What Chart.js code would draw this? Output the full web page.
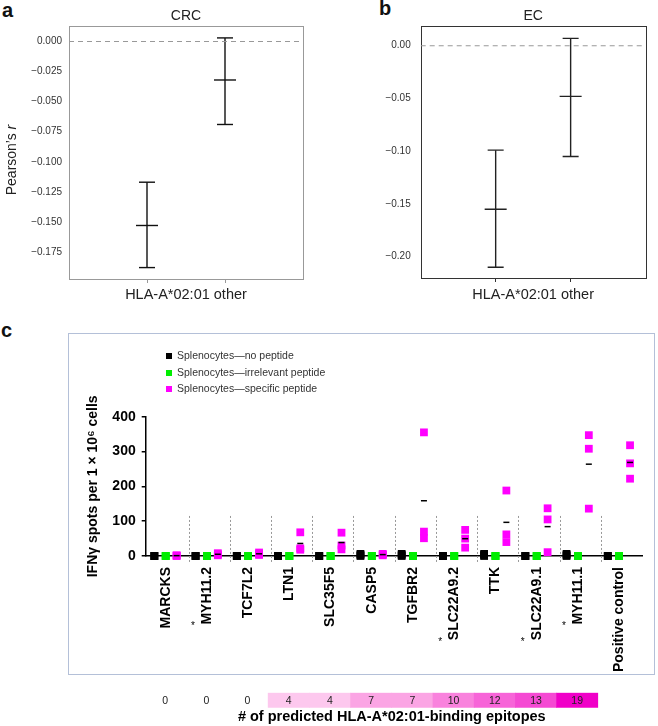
<!DOCTYPE html>
<html>
<head>
<meta charset="utf-8">
<script src="https://cdn.jsdelivr.net/npm/chart.js@4.4.1/dist/chart.umd.min.js"></script>
<style>
  body { margin: 0; background: #fff; }
  #page { position: relative; width: 658px; height: 726px; overflow: hidden; font-family: "Liberation Sans", Arial, sans-serif; }
  canvas { position: absolute; }
  .tag { position: absolute; font-weight: bold; font-size: 20px; line-height: 20px; color: #111; }
  #boxC { position: absolute; left: 68px; top: 333px; width: 587px; height: 342px; border: 1px solid #b4c0d8; box-sizing: border-box; }
</style>
</head>
<body>
<div id="page">
  <div class="tag" style="left:2px;top:0px">a</div>
  <div class="tag" style="left:379px;top:-2px">b</div>
  <div class="tag" style="left:1px;top:320px">c</div>
  <div id="boxC"></div>
  <canvas id="chartA" width="330" height="310" style="left:0;top:0"></canvas>
  <canvas id="chartB" width="328" height="310" style="left:330px;top:0"></canvas>
  <canvas id="chartC" width="587" height="342" style="left:68px;top:333px"></canvas>
  <canvas id="chartD" width="500" height="40" style="left:144px;top:686px"></canvas>
</div>
<script>
// panels a and b: Pearson's r with confidence intervals
const groupLabels = ['HLA-A*02:01', 'other'];
const crcMean = [-0.153, -0.032];
const crcLow = [-0.188, -0.069];
const crcHigh = [-0.117, 0.003];
const crcTicks = [0, -0.025, -0.05, -0.075, -0.1, -0.125, -0.15, -0.175];
const ecMean = [-0.155, -0.048];
const ecLow = [-0.210, -0.105];
const ecHigh = [-0.099, 0.007];
const ecTicks = [0, -0.05, -0.1, -0.15, -0.2];

// panel c: IFNγ ELISpot, three replicates per gene
const genes = ['MARCKS', 'MYH11.2', 'TCF7L2', 'LTN1', 'SLC35F5', 'CASP5', 'TGFBR2',
  'SLC22A9.2', 'TTK', 'SLC22A9.1', 'MYH11.1', 'Positive control'];
const starred = [false, true, false, false, false, false, false, true, false, true, true, false];
const seriesNames = ['Splenocytes\u2014no peptide', 'Splenocytes\u2014irrelevant peptide', 'Splenocytes\u2014specific peptide'];
const noPeptide = [[0, 0, 0], [0, 0, 0], [0, 0, 0], [0, 0, 0], [0, 0, 0], [0, 3, 6],
  [0, 3, 6], [0, 0, 0], [0, 3, 6], [0, 0, 0], [0, 3, 6], [0, 0, 0]];
const irrelevantPeptide = [[0, 0, 0], [0, 0, 0], [0, 0, 0], [0, 0, 0], [0, 0, 0], [0, 0, 0],
  [0, 0, 0], [0, 0, 0], [0, 0, 0], [0, 0, 0], [0, 0, 0], [0, 0, 0]];
const specificPeptide = [[0, 1, 2], [2, 5, 8], [3, 6, 10], [68, 22, 18], [67, 30, 19], [2, 4, 6],
  [355, 70, 51], [75, 50, 24], [188, 62, 40], [137, 105, 11], [347, 308, 136], [318, 266, 222]];
const spotTicks = [0, 100, 200, 300, 400];
const epitopeCounts = [0, 0, 0, 4, 4, 7, 7, 10, 12, 13, 19, null];

Chart.defaults.font.family = '"Liberation Sans", Arial, sans-serif';

const FONT = '"Liberation Sans", Arial, sans-serif';

function fmtTick(v, d) {
  if (Math.abs(v) < 1e-9) return (0).toFixed(d);
  return (v < 0 ? '\u2212' : '') + Math.abs(v).toFixed(d);
}

function framePlugin(color, title, withYTitle) {
  return {
    id: 'frame',
    beforeDatasetsDraw(chart) {
      const { ctx, chartArea: a } = chart;
      ctx.save();
      ctx.strokeStyle = color;
      ctx.lineWidth = 1;
      ctx.strokeRect(Math.round(a.left) + 0.5, Math.round(a.top) + 0.5,
        Math.round(a.right - a.left), Math.round(a.bottom - a.top));
      ctx.restore();
    },
    afterDraw(chart) {
      const { ctx, chartArea: a } = chart;
      ctx.save();
      ctx.fillStyle = '#222';
      ctx.font = '14px ' + FONT;
      ctx.textAlign = 'center';
      ctx.textBaseline = 'middle';
      ctx.fillText(title, (a.left + a.right) / 2, a.top - 10);
      if (withYTitle) {
        ctx.translate(12, 160);
        ctx.rotate(-Math.PI / 2);
        ctx.textAlign = 'left';
        const w1 = ctx.measureText("Pearson\u2019s ").width;
        ctx.font = 'italic 14px ' + FONT;
        const w2 = ctx.measureText('r').width;
        const x0 = -(w1 + w2) / 2;
        ctx.font = '14px ' + FONT;
        ctx.fillText("Pearson\u2019s ", x0, 0);
        ctx.font = 'italic 14px ' + FONT;
        ctx.fillText('r', x0 + w1, 0);
      }
      ctx.restore();
    }
  };
}

function errorChart(id, cfg) {
  const datasets = [{
    data: [{ x: -1, y: 0 }, { x: 2, y: 0 }],
    showLine: true, borderColor: '#999', borderWidth: 1.2, borderDash: [5, 4], pointRadius: 0
  }];
  cfg.mean.forEach((m, i) => {
    datasets.push({
      data: [{ x: i, y: cfg.low[i] }, { x: i, y: cfg.high[i] }],
      showLine: true, borderColor: cfg.line, borderWidth: 1.4,
      pointStyle: 'line', pointRadius: 8, pointBorderColor: cfg.line, pointBorderWidth: 1.4
    });
  });
  datasets.push({
    data: cfg.mean.map((m, i) => ({ x: i, y: m })),
    pointStyle: 'line', pointRadius: 11, pointBorderColor: cfg.line, pointBorderWidth: 1.4
  });

  return new Chart(id, {
    type: 'scatter',
    data: { datasets },
    options: {
      responsive: false,
      animation: false,
      events: [],
      layout: { padding: { top: 26, right: cfg.rightPad, left: 0, bottom: 0 } },
      plugins: { legend: { display: false }, tooltip: { enabled: false } },
      scales: {
        x: {
          type: 'linear', min: -1, max: 2,
          afterBuildTicks: s => { s.ticks = groupLabels.map((g, i) => ({ value: i })); },
          afterFit: s => { s.height = cfg.xHeight; },
          grid: { display: true, drawOnChartArea: false, tickLength: 4, color: cfg.frame },
          border: { display: false },
          ticks: { callback: () => '' },
          title: {
            display: true, text: groupLabels.join(' '), color: '#222',
            font: { size: 14.5 }, padding: { top: 0, bottom: 6.6 }
          }
        },
        y: {
          min: cfg.yMin, max: cfg.yMax,
          afterBuildTicks: s => { s.ticks = cfg.ticks.map(v => ({ value: v })); },
          afterFit: s => { s.width = cfg.yWidth; },
          grid: { display: false, drawTicks: false },
          border: { display: false },
          ticks: { padding: cfg.tickPad, color: '#333', font: { size: 10 }, callback: v => fmtTick(v, cfg.decimals) }
        }
      }
    },
    plugins: [framePlugin(cfg.frame, cfg.title, cfg.yTitle)]
  });
}

errorChart('chartA', {
  mean: crcMean, low: crcLow, high: crcHigh, ticks: crcTicks, decimals: 3,
  yMin: -0.1975, yMax: 0.0129, yWidth: 69, rightPad: 27, xHeight: 31, tickPad: 7,
  frame: '#999', line: '#111', title: 'CRC', yTitle: true
});

errorChart('chartB', {
  mean: ecMean, low: ecLow, high: ecHigh, ticks: ecTicks, decimals: 2,
  yMin: -0.2202, yMax: 0.0187, yWidth: 90.7, rightPad: 3, xHeight: 32, tickPad: 10,
  frame: '#333', line: '#222', title: 'EC', yTitle: false
});

// panel c
const seriesColors = ['#000000', '#00ee00', '#ff00ff'];
const seriesOffsets = [0.17, 0.445, 0.71];
const seriesValues = [noPeptide, irrelevantPeptide, specificPeptide];

const datasetsC = seriesValues.map((vals, s) => ({
  label: seriesNames[s],
  data: vals.flatMap((reps, i) => reps.map(v => ({ x: i + seriesOffsets[s], y: v }))),
  pointStyle: 'rect', pointRadius: 5.5, pointBorderWidth: 0,
  pointBackgroundColor: seriesColors[s], borderColor: seriesColors[s],
  clip: false, order: 1
}));
datasetsC.push({
  label: 'mean',
  data: specificPeptide.map((reps, i) => ({
    x: i + seriesOffsets[2], y: reps.reduce((a, b) => a + b, 0) / reps.length
  })),
  pointStyle: 'line', pointRadius: 3, pointBorderWidth: 1.5, pointBorderColor: '#000',
  clip: false, order: 0
});

const elispotDecor = {
  id: 'elispotDecor',
  beforeDatasetsDraw(chart) {
    const { ctx, scales: { x, y } } = chart;
    ctx.save();
    ctx.strokeStyle = '#999';
    ctx.lineWidth = 1;
    ctx.setLineDash([2, 2]);
    for (let k = 1; k < genes.length; k++) {
      const px = Math.round(x.getPixelForValue(k)) + 0.5;
      ctx.beginPath();
      ctx.moveTo(px, y.getPixelForValue(115));
      ctx.lineTo(px, y.getPixelForValue(-23));
      ctx.stroke();
    }
    ctx.restore();
  },
  afterDraw(chart) {
    const { ctx, scales: { x, y } } = chart;
    ctx.save();
    // asterisks beside the starred gene labels
    const base = y.getPixelForValue(0) + 11;
    genes.forEach((g, i) => {
      if (!starred[i]) return;
      ctx.font = 'bold 14px ' + FONT;
      const w = ctx.measureText(g).width;
      const tx = x.getPixelForValue(i + seriesOffsets[1]);
      ctx.font = '10px ' + FONT;
      ctx.fillStyle = '#000';
      ctx.textAlign = 'center';
      ctx.textBaseline = 'alphabetic';
      ctx.fillText('*', tx - 14, base + w + 4.5);
    });
    // legend
    ctx.font = '10.5px ' + FONT;
    ctx.textAlign = 'left';
    ctx.textBaseline = 'middle';
    seriesNames.forEach((n, i) => {
      const yy = 23 + i * 16.7;
      ctx.fillStyle = seriesColors[i];
      ctx.fillRect(98, Math.round(yy - 3), 6, 6);
      ctx.fillStyle = '#333';
      ctx.fillText(n, 109, yy);
    });
    ctx.restore();
  }
};

new Chart('chartC', {
  type: 'scatter',
  data: { datasets: datasetsC },
  options: {
    responsive: false,
    animation: false,
    events: [],
    layout: { padding: { top: 83.7, right: 13, left: 0, bottom: 0 } },
    plugins: { legend: { display: false }, tooltip: { enabled: false } },
    scales: {
      x: {
        type: 'linear', min: -0.04, max: genes.length,
        afterBuildTicks: s => { s.ticks = genes.map((g, i) => ({ value: i + seriesOffsets[1] })); },
        afterFit: s => { s.height = 119; },
        grid: { display: false, drawTicks: false },
        border: { display: true, color: '#000', width: 1.5 },
        ticks: {
          autoSkip: false, minRotation: 90, maxRotation: 90, padding: 11,
          font: { size: 14, weight: 'bold' }, color: '#000',
          callback: (v, i) => genes[i]
        }
      },
      y: {
        min: 0, max: 400,
        afterBuildTicks: s => { s.ticks = spotTicks.map(v => ({ value: v })); },
        afterFit: s => { s.width = 77.7; },
        grid: { display: true, drawOnChartArea: false, tickLength: 4, color: '#000', lineWidth: 1.5 },
        border: { display: true, color: '#000', width: 1.5 },
        ticks: { padding: 6, font: { size: 14, weight: 'bold' }, color: '#000' },
        title: {
          display: true, text: 'IFN\u03b3 spots per 1 \u00d7 10\u2076 cells', color: '#000',
          font: { size: 14, weight: 'bold' }, padding: { top: 16.6, bottom: 0 }
        }
      }
    }
  },
  plugins: [elispotDecor]
});

// epitope count strip
const shade = { 0: '#ffffff', 4: '#fdc8ee', 7: '#fba5e4', 10: '#f982dd', 12: '#f764d8', 13: '#f549d3', 19: '#f000c8' };

const stripLabels = {
  id: 'stripLabels',
  afterDatasetsDraw(chart) {
    const { ctx, chartArea: a } = chart;
    const meta = chart.getDatasetMeta(0);
    ctx.save();
    ctx.font = '10.5px ' + FONT;
    ctx.fillStyle = '#222';
    ctx.textAlign = 'center';
    ctx.textBaseline = 'middle';
    meta.data.forEach((bar, i) => {
      if (epitopeCounts[i] === null) return;
      ctx.fillText(String(epitopeCounts[i]), bar.x, (a.top + a.bottom) / 2 + 0.5);
    });
    ctx.restore();
  }
};

new Chart('chartD', {
  type: 'bar',
  data: {
    labels: genes,
    datasets: [{
      data: epitopeCounts.map(c => (c === null ? null : 1)),
      backgroundColor: epitopeCounts.map(c => (c === null ? 'rgba(0,0,0,0)' : shade[c])),
      borderWidth: 0, barPercentage: 1, categoryPercentage: 1
    }]
  },
  options: {
    responsive: false,
    animation: false,
    events: [],
    layout: { padding: { top: 6.7, left: 0.5, right: 5, bottom: 0 } },
    plugins: { legend: { display: false }, tooltip: { enabled: false } },
    scales: {
      x: {
        afterFit: s => { s.height = 18.3; },
        grid: { display: false, drawTicks: false },
        border: { display: false },
        ticks: { display: false },
        title: {
          display: true, text: '# of predicted HLA-A*02:01-binding epitopes', color: '#000',
          font: { size: 14.5, weight: 'bold' }, padding: { top: 0, bottom: 0 }
        }
      },
      y: { display: false, min: 0, max: 1 }
    }
  },
  plugins: [stripLabels]
});
</script>
</body>
</html>
